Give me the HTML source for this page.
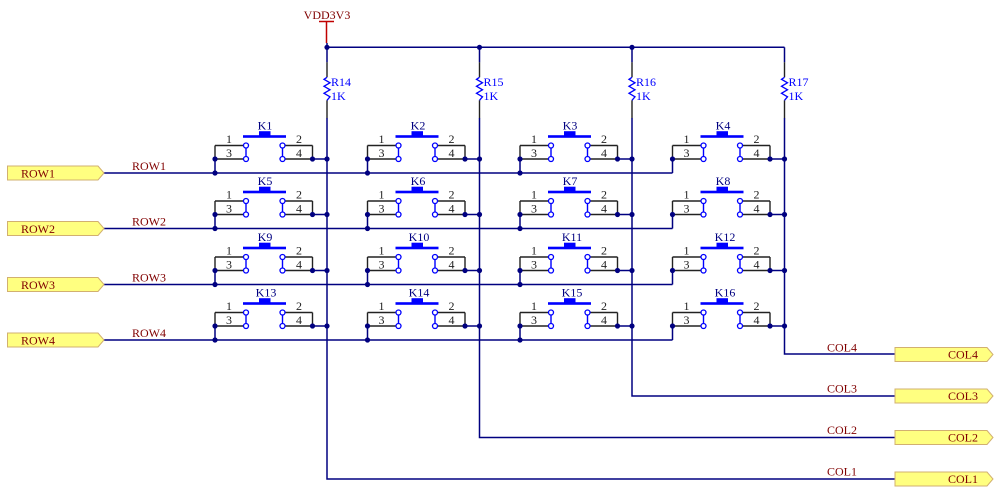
<!DOCTYPE html>
<html>
<head>
<meta charset="utf-8">
<style>
html,body{margin:0;padding:0;background:#fff;}
svg{display:block;}
text{font-family:"Liberation Serif",serif;font-size:12px;}
.n{fill:#800000;}
.k{fill:#000080;text-anchor:middle;}
.p{fill:#222;text-anchor:middle;}
.r{fill:#0000ff;}
</style>
</head>
<body>
<svg width="1000" height="494" viewBox="0 0 1000 494" xmlns="http://www.w3.org/2000/svg">
<defs>
  <g id="sw">
    <path d="M0,-27.5H28.5M0,-14H28.5M0,-27.5V-14M70,-27.5H97.5M70,-14H97.5M97.5,-27.5V-14" stroke="#222" stroke-width="1.4" fill="none"/>
    <path d="M31,-25V-16.5M67.5,-25V-16.5" stroke="#0000ff" stroke-width="1.4" fill="none"/>
    <circle cx="31" cy="-27.5" r="2.5" fill="#fff" stroke="#0000ff" stroke-width="1.3"/>
    <circle cx="31" cy="-14" r="2.5" fill="#fff" stroke="#0000ff" stroke-width="1.3"/>
    <circle cx="67.5" cy="-27.5" r="2.5" fill="#fff" stroke="#0000ff" stroke-width="1.3"/>
    <circle cx="67.5" cy="-14" r="2.5" fill="#fff" stroke="#0000ff" stroke-width="1.3"/>
    <rect x="28" y="-37.8" width="43" height="2.6" fill="#0000ff"/>
    <rect x="44" y="-41.8" width="11.5" height="4.5" fill="#0000ff"/>
    <path d="M0,-14V0M97.5,-14H112" stroke="#000080" stroke-width="1.5" fill="none"/>
    <circle cx="0" cy="-14" r="2.6" fill="#000080"/>
    <circle cx="97.5" cy="-14" r="2.6" fill="#000080"/>
    <circle cx="112" cy="-14" r="2.6" fill="#000080"/>
  </g>
  <g id="res">
    <path d="M0,0V15" stroke="#000080" stroke-width="1.5"/>
    <path d="M0,15V30M0,53V71" stroke="#222" stroke-width="1.4"/>
    <polyline points="0,30 -3,32 3,35.5 -3,39 3,42.5 -3,46 3,49.5 0,53" fill="none" stroke="#0000ff" stroke-width="1.3"/>
  </g>
</defs>

<!-- VDD -->
<text x="327" y="19" class="n" text-anchor="middle">VDD3V3</text>
<path d="M319,21.5H334M326.5,21.5V43" stroke="#c00000" stroke-width="1.5" fill="none"/>

<!-- top bus and columns -->
<path d="M327,43V47.3H784.5" stroke="#000080" stroke-width="1.5" fill="none"/>
<use href="#res" x="327" y="47.3"/>
<use href="#res" x="479.5" y="47.3"/>
<use href="#res" x="632" y="47.3"/>
<use href="#res" x="784.5" y="47.3"/>
<path d="M327,118V479H895M479.5,118V437.5H895M632,118V396H895M784.5,118V354H895" stroke="#000080" stroke-width="1.5" fill="none"/>
<circle cx="327" cy="47.3" r="2.6" fill="#000080"/>
<circle cx="479.5" cy="47.3" r="2.6" fill="#000080"/>
<circle cx="632" cy="47.3" r="2.6" fill="#000080"/>

<text x="331" y="86" class="r">R14</text><text x="331" y="100" class="r">1K</text>
<text x="483.5" y="86" class="r">R15</text><text x="483.5" y="100" class="r">1K</text>
<text x="636" y="86" class="r">R16</text><text x="636" y="100" class="r">1K</text>
<text x="788.5" y="86" class="r">R17</text><text x="788.5" y="100" class="r">1K</text>

<!-- rows -->
<path d="M104,173H672.5M104,228.5H672.5M104,284.5H672.5M104,340H672.5" stroke="#000080" stroke-width="1.5" fill="none"/>
<g fill="#000080">
<circle cx="215" cy="173" r="2.6"/><circle cx="367.5" cy="173" r="2.6"/><circle cx="520" cy="173" r="2.6"/>
<circle cx="215" cy="228.5" r="2.6"/><circle cx="367.5" cy="228.5" r="2.6"/><circle cx="520" cy="228.5" r="2.6"/>
<circle cx="215" cy="284.5" r="2.6"/><circle cx="367.5" cy="284.5" r="2.6"/><circle cx="520" cy="284.5" r="2.6"/>
<circle cx="215" cy="340" r="2.6"/><circle cx="367.5" cy="340" r="2.6"/><circle cx="520" cy="340" r="2.6"/>
</g>

<!-- switches -->
<use href="#sw" x="215" y="173"/><use href="#sw" x="367.5" y="173"/><use href="#sw" x="520" y="173"/><use href="#sw" x="672.5" y="173"/>
<use href="#sw" x="215" y="228.5"/><use href="#sw" x="367.5" y="228.5"/><use href="#sw" x="520" y="228.5"/><use href="#sw" x="672.5" y="228.5"/>
<use href="#sw" x="215" y="284.5"/><use href="#sw" x="367.5" y="284.5"/><use href="#sw" x="520" y="284.5"/><use href="#sw" x="672.5" y="284.5"/>
<use href="#sw" x="215" y="340"/><use href="#sw" x="367.5" y="340"/><use href="#sw" x="520" y="340"/><use href="#sw" x="672.5" y="340"/>

<!-- switch labels row1 -->
<text x="265" y="129.5" class="k">K1</text><text x="418" y="129.5" class="k">K2</text><text x="570" y="129.5" class="k">K3</text><text x="723" y="129.5" class="k">K4</text>
<text x="265" y="185" class="k">K5</text><text x="418" y="185" class="k">K6</text><text x="570" y="185" class="k">K7</text><text x="723" y="185" class="k">K8</text>
<text x="265" y="241" class="k">K9</text><text x="419" y="241" class="k">K10</text><text x="572" y="241" class="k">K11</text><text x="725" y="241" class="k">K12</text>
<text x="266" y="296.5" class="k">K13</text><text x="419" y="296.5" class="k">K14</text><text x="572" y="296.5" class="k">K15</text><text x="725" y="296.5" class="k">K16</text>

<!-- pin numbers -->
<g class="p">
<text x="229" y="143" class="p">1</text><text x="229" y="157" class="p">3</text><text x="299" y="143" class="p">2</text><text x="299" y="157" class="p">4</text>
<text x="381.5" y="143" class="p">1</text><text x="381.5" y="157" class="p">3</text><text x="451.5" y="143" class="p">2</text><text x="451.5" y="157" class="p">4</text>
<text x="534" y="143" class="p">1</text><text x="534" y="157" class="p">3</text><text x="604" y="143" class="p">2</text><text x="604" y="157" class="p">4</text>
<text x="686.5" y="143" class="p">1</text><text x="686.5" y="157" class="p">3</text><text x="756.5" y="143" class="p">2</text><text x="756.5" y="157" class="p">4</text>

<text x="229" y="198.5" class="p">1</text><text x="229" y="212.5" class="p">3</text><text x="299" y="198.5" class="p">2</text><text x="299" y="212.5" class="p">4</text>
<text x="381.5" y="198.5" class="p">1</text><text x="381.5" y="212.5" class="p">3</text><text x="451.5" y="198.5" class="p">2</text><text x="451.5" y="212.5" class="p">4</text>
<text x="534" y="198.5" class="p">1</text><text x="534" y="212.5" class="p">3</text><text x="604" y="198.5" class="p">2</text><text x="604" y="212.5" class="p">4</text>
<text x="686.5" y="198.5" class="p">1</text><text x="686.5" y="212.5" class="p">3</text><text x="756.5" y="198.5" class="p">2</text><text x="756.5" y="212.5" class="p">4</text>

<text x="229" y="254.5" class="p">1</text><text x="229" y="268.5" class="p">3</text><text x="299" y="254.5" class="p">2</text><text x="299" y="268.5" class="p">4</text>
<text x="381.5" y="254.5" class="p">1</text><text x="381.5" y="268.5" class="p">3</text><text x="451.5" y="254.5" class="p">2</text><text x="451.5" y="268.5" class="p">4</text>
<text x="534" y="254.5" class="p">1</text><text x="534" y="268.5" class="p">3</text><text x="604" y="254.5" class="p">2</text><text x="604" y="268.5" class="p">4</text>
<text x="686.5" y="254.5" class="p">1</text><text x="686.5" y="268.5" class="p">3</text><text x="756.5" y="254.5" class="p">2</text><text x="756.5" y="268.5" class="p">4</text>

<text x="229" y="310" class="p">1</text><text x="229" y="324" class="p">3</text><text x="299" y="310" class="p">2</text><text x="299" y="324" class="p">4</text>
<text x="381.5" y="310" class="p">1</text><text x="381.5" y="324" class="p">3</text><text x="451.5" y="310" class="p">2</text><text x="451.5" y="324" class="p">4</text>
<text x="534" y="310" class="p">1</text><text x="534" y="324" class="p">3</text><text x="604" y="310" class="p">2</text><text x="604" y="324" class="p">4</text>
<text x="686.5" y="310" class="p">1</text><text x="686.5" y="324" class="p">3</text><text x="756.5" y="310" class="p">2</text><text x="756.5" y="324" class="p">4</text>
</g>

<!-- ROW ports -->
<g fill="#ffff80" stroke="#d2b070" stroke-width="1">
<polygon points="7.5,166 98,166 104,173 98,180 7.5,180"/>
<polygon points="7.5,221.5 98,221.5 104,228.5 98,235.5 7.5,235.5"/>
<polygon points="7.5,277.5 98,277.5 104,284.5 98,291.5 7.5,291.5"/>
<polygon points="7.5,333 98,333 104,340 98,347 7.5,347"/>
</g>
<text x="21" y="177.5" class="n">ROW1</text>
<text x="21" y="233" class="n">ROW2</text>
<text x="21" y="289" class="n">ROW3</text>
<text x="21" y="344.5" class="n">ROW4</text>
<text x="132" y="170" class="n">ROW1</text>
<text x="132" y="225.5" class="n">ROW2</text>
<text x="132" y="281.5" class="n">ROW3</text>
<text x="132" y="337" class="n">ROW4</text>

<!-- COL ports -->
<g fill="#ffff80" stroke="#d2b070" stroke-width="1">
<polygon points="895,347.5 987,347.5 993,354.5 987,361.5 895,361.5"/>
<polygon points="895,389 987,389 993,396 987,403 895,403"/>
<polygon points="895,430.5 987,430.5 993,437.5 987,444.5 895,444.5"/>
<polygon points="895,472 987,472 993,479 987,486 895,486"/>
</g>
<text x="948" y="358.5" class="n">COL4</text>
<text x="948" y="400" class="n">COL3</text>
<text x="948" y="441.5" class="n">COL2</text>
<text x="948" y="483" class="n">COL1</text>
<text x="827" y="351.5" class="n">COL4</text>
<text x="827" y="392.5" class="n">COL3</text>
<text x="827" y="434" class="n">COL2</text>
<text x="827" y="475.5" class="n">COL1</text>
</svg>
</body>
</html>
